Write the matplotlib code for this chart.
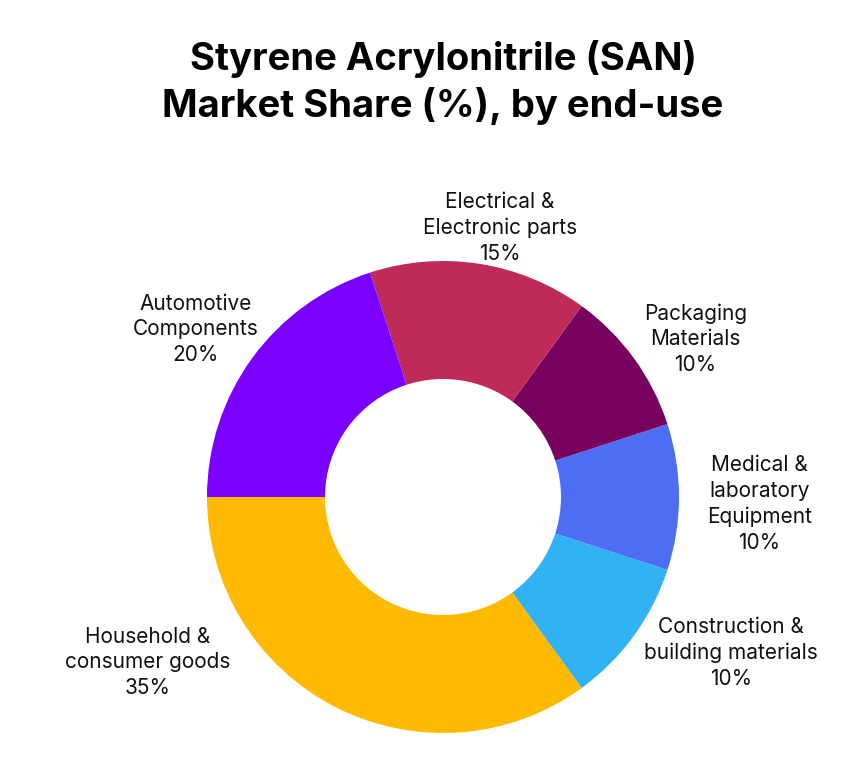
import matplotlib
matplotlib.use("Agg")
import matplotlib.pyplot as plt
import numpy as np

plt.rcParams['font.family'] = ['Inter', 'DejaVu Sans']

# data, in drawing order (counter-clockwise from 9 o'clock)
categories = ["Household &\nconsumer goods", "Construction &\nbuilding materials",
              "Medical &\nlaboratory\nEquipment", "Packaging\nMaterials",
              "Electrical &\nElectronic parts", "Automotive\nComponents"]
shares = [35, 10, 10, 10, 15, 20]
colors = ["#FDBA00", "#31B2F5", "#4D6EF3", "#78005F", "#BE2B58", "#7A00FF"]

# label centres in units of the outer radius (hand placed like the original)
label_pos = [(-1.25, -0.70), (1.22, -0.66), (1.34, -0.03), (1.07, 0.67),
             (0.24, 1.14), (-1.05, 0.71)]

W, H = 851, 781
cx, cy, R = 443, 497, 236

fig = plt.figure(figsize=(W / 100, H / 100), dpi=100)
ax = fig.add_axes([0, 0, 1, 1])

ax.pie(shares, colors=colors, startangle=180, counterclock=True, radius=1,
       wedgeprops=dict(width=0.5, edgecolor='none'))

ax.set_xlim(-cx / R, (W - cx) / R)
ax.set_ylim(-(H - cy) / R, cy / R)
ax.set_aspect('equal')
ax.axis('off')

for name, val, (x, y) in zip(categories, shares, label_pos):
    ax.text(x, y, f"{name}\n{val}%", ha='center', va='center', fontsize=15,
            color='#111111', linespacing=1.35)

fig.text(cx / W, 1 - 40 / H, "Styrene Acrylonitrile (SAN)\nMarket Share (%), by end-use",
         ha='center', va='top', fontsize=27.5, fontweight='bold', color='black',
         linespacing=1.3)

fig.savefig("out.png", dpi=100)
